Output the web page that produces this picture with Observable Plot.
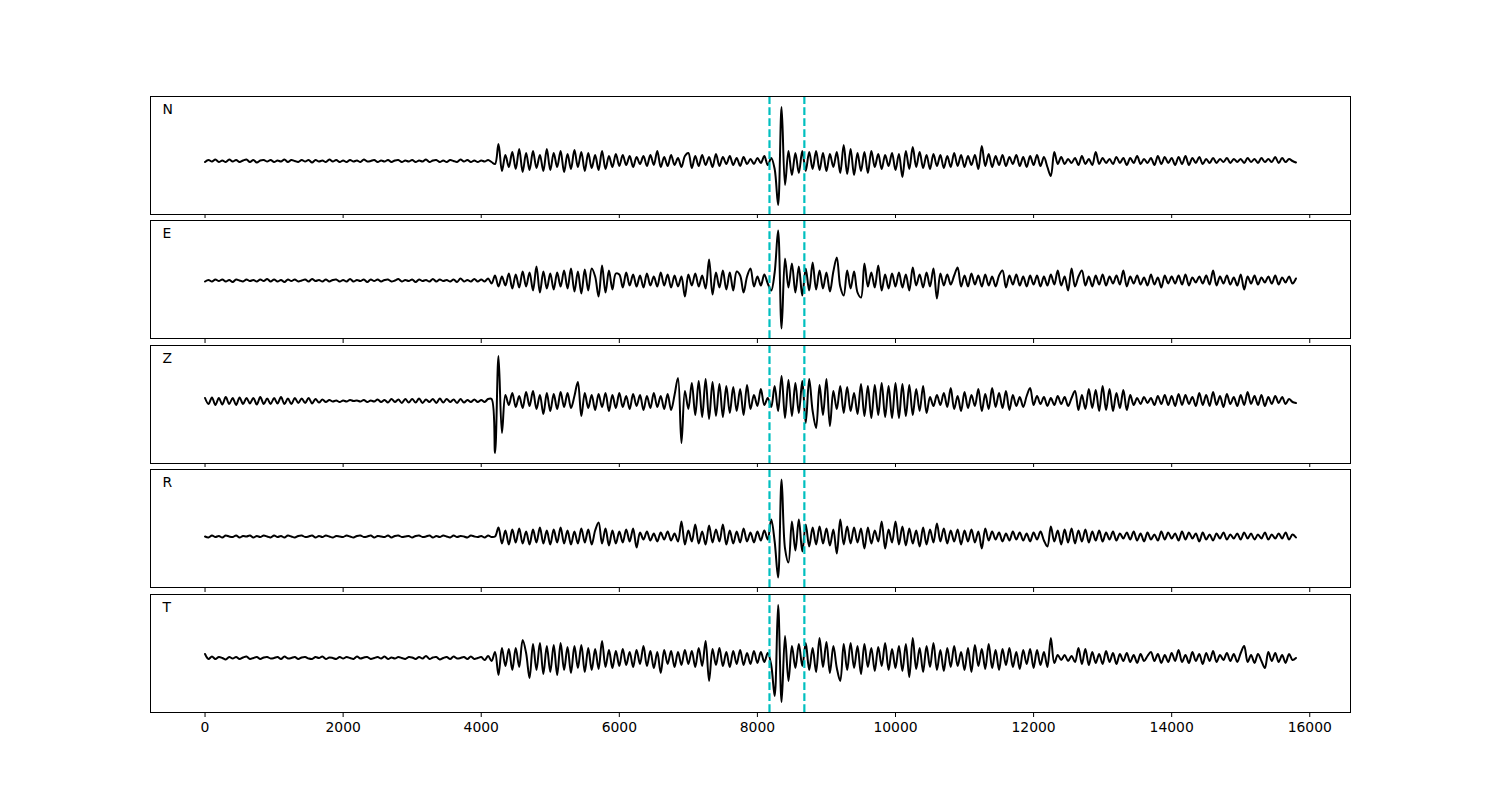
<!DOCTYPE html>
<html><head><meta charset="utf-8">
<script src="https://cdn.jsdelivr.net/npm/d3@7"></script>
<script src="https://cdn.jsdelivr.net/npm/@observablehq/plot@0.6"></script>
<style>
body{margin:0;background:#fff}
#fig{position:relative;width:1500px;height:800px;background:#fff;font-family:"DejaVu Sans"}
.panel{position:absolute;left:0}
</style>
</head><body><div id="fig"></div>
<script>
// sample spacing (time units) of every trace, starting at t = 0
const dt = 50;
const channels = ["N", "E", "Z", "R", "T"];
const picks = [8175, 8680];
const xTicks = [0, 2000, 4000, 6000, 8000, 10000, 12000, 14000, 16000];

const traceN = [
 -1, 1, -0.5, 1.5, -1, 0.5, -1, 1.5, -0.5, 1, -1, 0.5, 1.5, -1, 1, -1.5, 0.5, 1, -0.5, 1,
 -1, 0.5, -0.5, 1.5, -1, 1, 0, -1, 1, -0.5, 1, -1.5, 1, -0.5, 0.5, -1, 1.5, -0.5, 1, -1,
 0.5, -1, 1, -0.5, 0.5, -1, 1.5, -0.5, 0, 1, -1, 0.5, -0.5, 1, -1, 0.5, 1, -1, 0.5, -0.5,
 1, -1, 0.5, -0.5, 1.5, -1, 0.5, 1, -1, 0.5, -1, 1, 0, -1, 1.5, -0.5, 1, -1, 0.5, -1,
 0.5, -0.5, 1, -1, -3, 17, -10, 6, -6, 9, -8, 12, -11, 8, -9, 10, -7, 6, -10, 12,
 -9, 8, -6, 10, -11, 7, -8, 11, -6, 9, -10, 8, -7, 6, -9, 10, -8, 5, -6, 7,
 -5, 6, -4, 5, -6, 4, -3, 5, -5, 6, -4, 10, -6, 4, -5, 6, -4, 3, -6, 5,
 8, -7, 5, -5, 6, -4, 4, -6, 7, -5, 4, -3, 5, -4, 3, -5, 4, -3, 2, -3,
 3, -2, 5, -4, 3, -8, -44, 54, -24, 10, -14, 8, -12, 10, -10, 9, -8, 10, -9, 8,
 -10, 7, -6, 9, -12, 16, -13, 12, -14, 8, -10, 9, -12, 10, -6, 7, -8, 6, -5, 8,
 -9, 7, -16, 10, -8, 14, -6, 9, -7, 6, -8, 7, -5, 6, -7, 5, -6, 8, -5, 6,
 -6, 5, -4, 6, -8, 15, -5, 7, -6, 5, -4, 6, -5, 4, -3, 6, -5, 4, -6, 5,
 -4, 6, -5, 4, -6, -15, 9, -3, 4, -3, 2, -2, 3, -4, 5, -3, 2, -4, 9, -3,
 3, -2, 2, -3, 4, -2, 3, -4, 3, -2, 5, -3, 2, -2, 3, -4, 5, -3, 4, -2,
 3, -4, 4, -3, 5, -4, 3, -2, 4, -3, 2, -2, 3, -2, 2, -1, 3, -2, 2, -1,
 2, -2, 3, -1, 2, -2, 3, -1, 2, -1, 4, -2, 3, -1, 2, 0, -1.5
];
const traceE = [
 -1, 0.5, -1, 1, -0.5, 1, -1, 0.5, -1.5, 1, 0, -1, 1, -0.5, 0.5, -1, 1, -0.5, 1.5, -1,
 1, -1, 0.5, -1.5, 1, -0.5, 1, -1, 0, 1, -1, 1.5, -0.5, 0.5, -1, 1, -1, 0.5, 1, -1,
 0.5, -1, 1.5, -1, 0.5, -0.5, 1, -1.5, 1, -0.5, 1, -1, 0.5, 1, -1, 0, 1.5, -1, 0.5, -0.5,
 1, -1.5, 1, -0.5, 0.5, -1, 1.5, -1, 1, -0.5, 0.5, -1, 1, -1.5, 2, -1, 0.5, -1, 1.5, -1,
 1, -1, 2, -3, 5, -6, 4, -5, 7, -8, 6, -7, 9, -6, 8, -10, 14, -12, 9, -8,
 7, -9, 8, -6, 10, -8, 12, -11, 9, -13, 11, -10, 12, 4, -16, 15, -12, 10, -9, 7,
 6, -7, 8, -5, 6, -6, 5, -7, 7, -5, 4, -6, 8, -5, 6, -7, 5, -6, 4, -16,
 6, -5, 7, -6, 5, -8, 21, -14, 8, -7, 10, -9, 8, -10, 9, 5, -12, 4, 12, -6,
 4, -5, 6, -3, -10, 8, 50, -48, 22, -7, 17, -12, 14, -15, 12, -10, 18, -9, 10, -8,
 8, -11, 9, 23, -6, -15, 10, -8, 9, -12, -17, 17, -6, 8, -7, 15, -10, 6, -8, 7,
 -6, 8, -7, 6, -10, 13, -5, 6, -7, 8, -6, 12, -18, 7, -5, 6, -4, 5, 13, -6,
 5, -6, 7, -4, 5, -6, 6, -5, 4, -6, 5, 10, -7, 5, -4, 6, -5, 4, -6, 5,
 -4, 5, -6, 4, -5, 6, -4, 10, -5, 4, -10, 12, -6, 4, 10, -5, 4, -6, 5, -4,
 6, -5, 4, -3, 5, -4, 10, -6, 4, -3, 5, -4, 3, -5, 6, -4, 3, -7, 5, -3,
 4, -3, 5, -4, 6, -5, 3, -2, 4, -3, 5, -4, 10, -5, 4, -3, 5, -4, 3, -5,
 6, -9, 4, -3, 5, -4, 3, -2, 4, -3, 5, -4, 3, -2, 4, -3, 2
];
const traceZ = [
 3, -3, 3.5, -4, 3, -3.5, 4, -3, 3, -4, 3.5, -3, 3, -2.5, 3, -3.5, 4, -3, 2.5, -3,
 3, -2.5, 4, -3, 2.5, -3, 3, -2, 2.5, -2, 3, -2.5, 2, -1.5, 1.5, -1, 1, -0.5, 0.5, -1,
 0.5, -0.5, 1, 0, 0.5, -0.5, 1, -1, 0.5, -0.5, 1.5, -1, 1, -1.5, 2, -1, 1.5, -2, 2, -1.5,
 2, -1.5, 2.5, -2, 1.5, -1, 2, -2, 2.5, -1.5, 2, -1, 1.5, -2, 2, -1.5, 1, -1, 1.5, -1,
 1, -1, 2, 2, -52, 45, -32, 6, -4, 8, -6, 5, -7, 9, -5, 10, -8, 6, -13, 8,
 -10, 7, -8, 9, -6, 8, -7, 5, 19, -15, 8, -7, 6, -9, 7, -6, 8, -10, 6, -7,
 8, -6, 5, -8, 7, -5, 6, -9, 5, -7, 8, -6, 5, -8, 7, -9, 6, 23, -42, 10,
 -8, 18, -14, 20, -16, 22, -18, 19, -15, 17, -16, 15, -12, 14, -10, 12, -14, 16, -8, 6,
 -5, 12, -4, 3, -6, 15, -10, 25, -17, 21, -15, 18, -12, 20, -22, 22, -10, -27, 16, -14,
 22, -25, 10, -8, 15, -12, 14, -10, 8, -13, 17, -15, 15, -17, 16, -14, 18, -16, 15, -17,
 18, -17, 17, -15, 16, -14, 12, -10, 15, -12, 4, -5, 6, -4, 8, -6, 13, -8, 5, -10,
 9, -7, 6, -5, 12, -10, 7, -8, 13, -6, 8, -7, 10, -9, 6, -5, 4, -6, 5, 13,
 -4, 5, -3, 4, -5, 3, -4, 5, -3, 4, -5, 3, 10, -9, 6, -8, 12, -7, 11, -10,
 15, -9, 12, -10, 8, -7, 11, -9, 6, -4, 3, -3, 4, -2, 3, -4, 5, -3, 6, -4,
 5, -5, 7, -4, 6, -3, 4, -5, 8, -4, 6, -5, 9, -4, 5, -6, 7, -3, 4, -5,
 6, -4, 9, -3, 5, -4, 6, -5, 4, -3, 5, -2, 4, -3, 2, -1, -2
];
const traceR = [
 0, -1, 1, -0.5, 0.5, -1, 1, 0, -0.5, 1, -1, 0.5, 0, 1, -1, 0.5, -0.5, 1, 0, -1,
 1, -0.5, 0.5, -1, 1, 0, -1, 0.5, 1, -0.5, 0, 1, -1, 0.5, -0.5, 1, 0, -1, 0.5, 0,
 -0.5, 1, 0, -1, 0.5, 1, -0.5, 0, 1, -1, 0.5, 0, -0.5, 1, -1, 0.5, 1, -0.5, 0, 0.5,
 -1, 0.5, 1, -0.5, 0, 1, -1, 0.5, -0.5, 1, 0, -1, 1, -0.5, 0.5, 0, -1, 1, 0, -0.5,
 0.5, -1, 1, -0.5, 0, 9, -7, 6, -8, 7, -6, 8, -7, 5, -8, 7, -6, 9, -7, 6,
 -8, 7, -6, 9, -7, 6, -8, 5, -7, 8, -6, 7, -8, 6, 14, -7, 8, -9, 6, -7,
 5, -6, 7, -5, 8, -11, 4, -3, 5, -4, 3, -5, 4, -3, 5, -4, 3, -5, 15, -8,
 6, -5, 12, -7, 5, -8, 11, -6, 7, -5, 12, -8, 6, -7, 5, -6, 8, -5, 4, -6,
 5, -4, 6, -3, 17, -5, -41, 57, -12, -26, 15, -14, 17, -15, 12, -10, 9, -8, 10, -7,
 8, -9, 7, -17, 17, -8, 10, -7, 9, -6, 8, -12, 9, -7, 6, -5, 15, -12, 7, -6,
 15, -8, 10, -9, 8, -7, 6, -10, 9, -8, 7, -6, 13, -5, 8, -7, 6, -5, 7, -8,
 6, -5, 7, -6, 5, -12, 8, -4, 5, -3, 4, -5, 3, -4, 5, -3, 4, -4, 3, -5,
 4, -3, 5, -4, -10, 10, -5, 6, -8, 7, -6, 8, -7, 6, -5, 7, -6, 5, -4, 6,
 -5, 4, -3, 5, -4, 3, -2, 4, -3, 5, -4, 3, -5, 4, -3, 2, -4, 5, -3, 4,
 -2, 3, -4, 5, -3, 4, -2, 3, -5, 4, -3, 2, -4, 3, -2, 4, -3, 2, -2, 3,
 -3, 4, -2, 3, -3, 2, -2, 4, -3, 2, -2, 3, -2, 4, -3, 2, -1
];
const traceT = [
 4, -1, 1.5, -1, 1, 0, -1.5, 1, -0.5, 1, -1, 0.5, 1.5, -1, 0, 1, -1, 0.5, 1, -0.5,
 0, 1, -1, 1.5, -0.5, 0, 1, -1, 0.5, 1, -0.5, -1, 1, 0, 1.5, -1, 0.5, 0, -1, 1,
 -0.5, 1, 0, -1, 1.5, -0.5, 0.5, 1, -1, 0, 1, -0.5, 1.5, -1, 0.5, -0.5, 1, 0, -1, 1,
 0.5, -1, 1, -0.5, 2, -1, 0.5, 1, -1.5, 0, 1, -1, 1.5, -0.5, 0, 1, -1, 1.5, -1, 0,
 1, -2, 2, -3, 6, -17, 10, -8, 9, -12, 10, -9, 18, 5, -20, 14, -12, 15, -16, 12,
 -14, 13, -17, 15, -12, 11, -15, 12, -10, 13, -14, 10, -12, 9, -11, 17, -9, 8, -10, 7,
 -8, 9, -7, 6, -9, 8, -6, 12, -8, 7, -10, 6, -15, 8, -6, 7, -9, 6, -7, 8,
 -6, 7, -9, 10, -8, 17, -23, 9, -7, 10, -8, 6, -9, 7, -6, 8, -7, 5, -6, 7,
 -5, 6, -4, 5, -7, -38, 53, -44, 22, -23, 12, -10, 14, -8, 15, -12, 10, -14, 20, -9,
 16, -15, 12, -10, -23, 14, -12, 15, -10, 12, -16, 14, -9, 10, -13, 11, -8, 15, -12, 9,
 -10, 12, -13, 14, -19, 20, -11, 10, -14, 12, -9, 15, -12, 8, -13, 10, -9, 12, -8, 6,
 -12, 10, -14, 13, -8, 9, -11, 14, -10, 8, -12, 9, -7, 10, -9, 6, -11, 8, -6, 9,
 -10, 8, -7, 6, -9, 20, -5, 3, -2, 3, -3, 2, -4, 10, -6, 9, -7, 6, -5, 4,
 -6, 7, -4, 5, -6, 4, -3, 5, -4, 3, -5, 4, -3, 2, 6, -3, 4, -5, 3, -4,
 5, -3, 8, -4, 3, -5, 6, -3, 4, -6, 5, -3, 7, -4, 3, -2, 5, -3, 4, -4,
 5, 12, -4, 3, -5, 4, -3, -10, 6, -3, 5, -4, 3, -5, 4, -2, 0
];
const traces = [traceN, traceE, traceZ, traceR, traceT];

// layout (pixels)
const panelTops = [96, 220, 345, 469, 594];
const panelH = 118;
const yDomains = [[-53.5, 64.5], [-58, 60], [-62.5, 55.5], [-51, 67], [-54.5, 63.5]];
const xDomain = [-790, 16590];
const font = {fontFamily: "DejaVu Sans", fontSize: "13.9px", color: "black", background: "white", overflow: "visible"};

const fig = document.getElementById("fig");
channels.forEach((name, k) => {
  const last = k === channels.length - 1;
  const data = traces[k].map((v, i) => ({t: i * dt, v}));
  const dom = yDomains[k];
  const mb = last ? 40 : 6;
  const chart = Plot.plot({
    width: 1500,
    height: panelH + 2 + mb,
    marginLeft: 150, marginRight: 150, marginTop: 2, marginBottom: mb,
    style: font,
    x: {domain: xDomain},
    y: {domain: dom, axis: null},
    marks: [
      Plot.line(data, {x: "t", y: "v", curve: "catmull-rom", stroke: "black", strokeWidth: 2, strokeLinejoin: "round"}),
      Plot.ruleX(picks, {y1: dom[0], y2: dom[1], stroke: "#00bfbf", strokeWidth: 2.2, strokeDasharray: "7.7,3.3"}),
      Plot.frame({stroke: "black", strokeWidth: 1}),
      Plot.axisX(xTicks, {tickSize: 5, tickPadding: 5, fontSize: 13.9, tickFormat: last ? "d" : () => "", label: null}),
      Plot.text([name], {frameAnchor: "top-left", dx: 12, dy: 7.5, lineAnchor: "top", textAnchor: "start", fontSize: 13.9, fill: "black"})
    ]
  });
  const div = document.createElement("div");
  div.className = "panel";
  div.style.top = (panelTops[k] - 2) + "px";
  div.appendChild(chart);
  fig.appendChild(div);
});
</script>
</body></html>
